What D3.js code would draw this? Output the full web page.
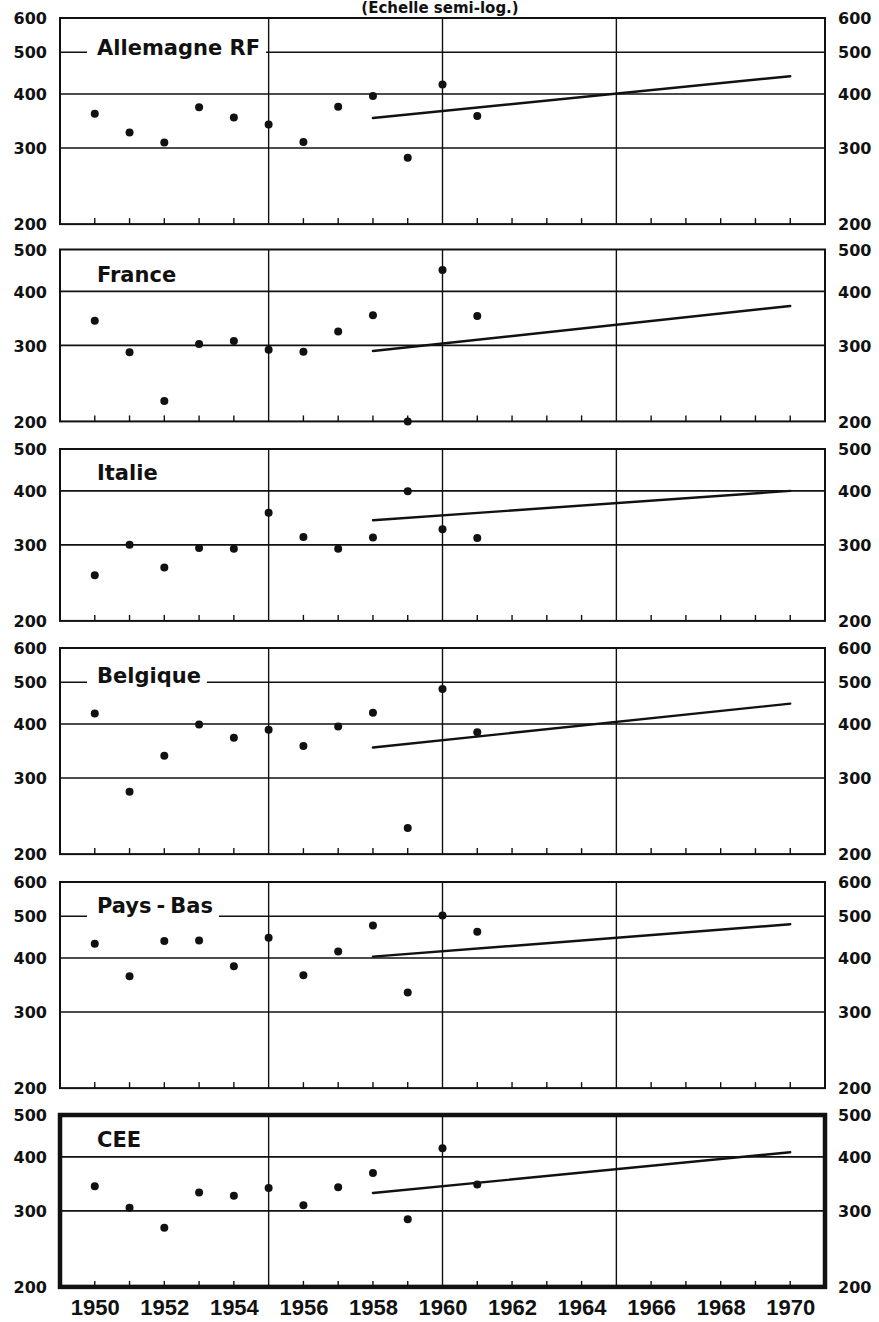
<!DOCTYPE html>
<html>
<head>
<meta charset="utf-8">
<script src="https://cdn.jsdelivr.net/npm/d3@7"></script>
<style>
  body { margin: 0; background: #fff; }
  svg { display: block; }
</style>
</head>
<body>
<svg id="chart" width="879" height="1322"></svg>
<script>
// Observed yearly values, 1950-1961
const years = [1950, 1951, 1952, 1953, 1954, 1955, 1956, 1957, 1958, 1959, 1960, 1961];
const allemagne = [360, 326, 309, 373, 353, 340, 310, 374, 396, 285, 421, 356];
const france    = [342, 289, 223, 302, 307, 293, 290, 323, 352, 200, 448, 351];
const italie    = [255, 300, 266, 295, 294, 356, 313, 294, 312, 399, 326, 311];
const belgique  = [423, 279, 338, 399, 372, 388, 356, 395, 425, 230, 482, 383];
const paysBas   = [432, 363, 438, 439, 383, 446, 365, 414, 476, 333, 502, 460];
const cee       = [342, 305, 274, 331, 325, 339, 309, 340, 367, 287, 419, 345];

// Trend lines 1958 -> 1970
const trendYears     = [1958, 1970];
const trendAllemagne = [352, 440];
const trendFrance    = [291, 370];
const trendItalie    = [342, 400];
const trendBelgique  = [353, 446];
const trendPaysBas   = [403, 479];
const trendCee       = [330, 410];

const panelNames = ["Allemagne RF", "France", "Italie", "Belgique", "Pays-Bas", "CEE"];
const panelMax   = [600, 500, 500, 600, 600, 500];
const panelSeries = [allemagne, france, italie, belgique, paysBas, cee];
const panelTrends = [trendAllemagne, trendFrance, trendItalie, trendBelgique, trendPaysBas, trendCee];

const yTicks = [200, 300, 400, 500, 600];
const gridYears = [1955, 1960, 1965];
const tickYears = d3.range(1950, 1971).filter(yr => !gridYears.includes(yr));
const labelYears = d3.range(1950, 1971, 2);

const titleText = "(Echelle semi-log.)";

// ---- layout ----
const svg = d3.select("#chart");
const ink = "#111";
const x = d3.scaleLinear().domain([1949, 1971]).range([60, 825]);
const pxPerDecade = 432;
const panelTops = [18, 249.5, 449, 648, 882, 1115];
const labelBaselines = [37, 32, 31, 35, 31, 32];
const numFont = "DejaVu Sans, sans-serif";

svg.append("text")
  .attr("x", 440).attr("y", 13)
  .attr("text-anchor", "middle")
  .attr("font-family", numFont).attr("font-weight", "bold")
  .attr("font-size", 15).attr("fill", ink)
  .text(titleText);

panelNames.forEach((name, i) => {
  const top = panelTops[i];
  const max = panelMax[i];
  const h = pxPerDecade * Math.log10(max / 200);
  const bottom = top + h;
  const y = d3.scaleLog().domain([200, max]).range([bottom, top]);
  const isTotal = i === panelNames.length - 1;
  const g = svg.append("g");

  // horizontal grid lines
  g.selectAll(".hgrid")
    .data(yTicks.filter(v => v > 200 && v < max))
    .join("line")
    .attr("x1", x.range()[0]).attr("x2", x.range()[1])
    .attr("y1", d => y(d)).attr("y2", d => y(d))
    .attr("stroke", ink).attr("stroke-width", 1.6);

  // vertical grid lines
  g.selectAll(".vgrid")
    .data(gridYears)
    .join("line")
    .attr("x1", d => x(d)).attr("x2", d => x(d))
    .attr("y1", top).attr("y2", bottom)
    .attr("stroke", ink).attr("stroke-width", 1.4);

  // year ticks along the bottom edge
  g.selectAll(".ytick")
    .data(tickYears)
    .join("line")
    .attr("x1", d => x(d)).attr("x2", d => x(d))
    .attr("y1", bottom).attr("y2", bottom - 6)
    .attr("stroke", ink).attr("stroke-width", 1.4);

  // country label with a white knock-out behind it
  const labelG = g.append("g");
  const bg = labelG.append("rect").attr("fill", "#fff");
  const label = labelG.append("text")
    .attr("x", 97)
    .attr("y", top + labelBaselines[i])
    .attr("font-family", numFont).attr("font-weight", "bold")
    .attr("font-size", 21).attr("fill", ink);
  if (name.includes("-")) {
    const parts = name.split("-");
    label.append("tspan").text(parts[0]);
    label.append("tspan").attr("dx", 5).text("-");
    label.append("tspan").attr("dx", 5).text(parts[1]);
  } else {
    label.text(name);
  }
  const bb = label.node().getBBox();
  bg.attr("x", bb.x - 10).attr("y", bb.y)
    .attr("width", bb.width + 16).attr("height", bb.height);

  // trend line
  const line = d3.line().x(d => x(d[0])).y(d => y(d[1]));
  g.append("path")
    .datum(trendYears.map((yr, k) => [yr, panelTrends[i][k]]))
    .attr("d", line)
    .attr("fill", "none").attr("stroke", ink)
    .attr("stroke-width", 2.4).attr("stroke-linecap", "round");

  // yearly observations
  g.selectAll(".dot")
    .data(years.map((yr, k) => [yr, panelSeries[i][k]]))
    .join("circle")
    .attr("cx", d => x(d[0])).attr("cy", d => y(d[1]))
    .attr("r", 4).attr("fill", ink);

  // frame
  g.append("rect")
    .attr("x", x.range()[0]).attr("y", top)
    .attr("width", x.range()[1] - x.range()[0]).attr("height", h)
    .attr("fill", "none").attr("stroke", ink)
    .attr("stroke-width", isTotal ? 4.5 : 2);

  // value axes, both sides
  const vals = yTicks.filter(v => v <= max);
  const left = g.append("g")
    .attr("transform", "translate(47,0)")
    .call(d3.axisLeft(y).tickValues(vals).tickSize(0).tickPadding(0).tickFormat(d3.format("d")));
  const right = g.append("g")
    .attr("transform", "translate(838,0)")
    .call(d3.axisRight(y).tickValues(vals).tickSize(0).tickPadding(0).tickFormat(d3.format("d")));
  [left, right].forEach(ax => {
    ax.select(".domain").remove();
    ax.attr("font-family", numFont).attr("font-size", 16).attr("font-weight", "bold");
    ax.selectAll("text").attr("fill", ink).attr("dy", "0.36em");
  });

  if (isTotal) {
    const bottomAxis = g.append("g")
      .attr("transform", `translate(0,${bottom})`)
      .call(d3.axisBottom(x).tickValues(labelYears).tickSize(0).tickPadding(12).tickFormat(d3.format("d")));
    bottomAxis.select(".domain").remove();
    bottomAxis.attr("font-family", "Liberation Sans, Arial, sans-serif")
      .attr("font-size", 22).attr("font-weight", "bold");
    bottomAxis.selectAll("text").attr("fill", ink);
  }
});
</script>
</body>
</html>
